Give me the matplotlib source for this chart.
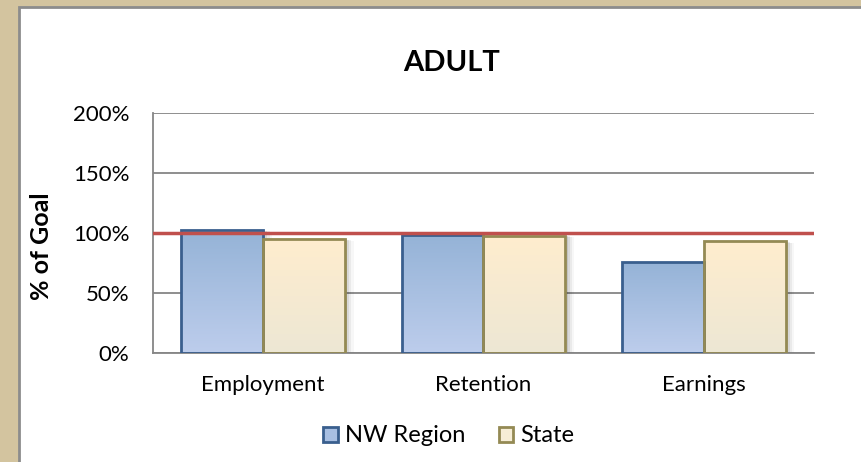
import numpy as np
import matplotlib
matplotlib.use("Agg")
import matplotlib.pyplot as plt
from matplotlib.patches import Rectangle
from matplotlib.colors import LinearSegmentedColormap

categories = ["Employment", "Retention", "Earnings"]
nw_region = [102.5, 98.3, 75.6]
state = [95.3, 97.9, 93.1]
goal = 100
yticks = [0, 50, 100, 150, 200]
series_names = ["NW Region", "State"]

W, H = 862, 462
FONT = "Lato"


def gradient_bars(ax, bars, top, bottom, edge):
    cmap = LinearSegmentedColormap.from_list("g", [bottom, top])
    grad = np.linspace(0, 1, 256).reshape(-1, 1)
    for b in bars:
        x0, w, h = b.get_x(), b.get_width(), b.get_height()
        # soft shadow to the right / below
        for k, a in enumerate([0.10, 0.07, 0.05, 0.03]):
            off = 0.006 * (k + 1)
            ax.add_patch(Rectangle((x0 + off * 1.6, -0.4 * (k + 1)), w, h,
                                   facecolor="black", alpha=a, edgecolor="none", zorder=1))
        ax.imshow(grad, cmap=cmap, extent=(x0, x0 + w, 0, h), origin="lower",
                  aspect="auto", zorder=2, interpolation="bilinear")
        ax.add_patch(Rectangle((x0, 0), w, h, facecolor="none", edgecolor=edge,
                               linewidth=2.0, zorder=3))


def main():
    plt.rcParams["font.family"] = [FONT, "DejaVu Sans"]
    fig = plt.figure(figsize=(W / 100, H / 100), dpi=100)
    fig.patch.set_facecolor("#D3C49F")
    # white chart area with grey border on the left and top
    fig.patches.append(Rectangle((19 / W, -1), 2, 2 - 7 / H, transform=fig.transFigure,
                                 facecolor="white", edgecolor="#8C8C8C", linewidth=2, zorder=-5))

    ax = fig.add_axes([153 / W, 1 - 353 / H, (814 - 153) / W, 240 / H])
    ax.set_facecolor("none")
    x = np.arange(len(categories))
    width = 0.372
    b1 = ax.bar(x - width / 2, nw_region, width, color="none", edgecolor="none")
    b2 = ax.bar(x + width / 2, state, width, color="none", edgecolor="none")
    gradient_bars(ax, b1, "#95B3D7", "#BDCDEC", "#3A5F8E")
    gradient_bars(ax, b2, "#FFEDCE", "#EDE7D4", "#948A54")

    ax.axhline(goal, color="#C0504D", linewidth=2.5, zorder=5)

    ax.set_xlim(-0.5, len(categories) - 0.5)
    ax.set_ylim(0, 200)
    ax.set_yticks(yticks)
    ax.set_yticklabels(["{}%".format(v) for v in yticks])
    ax.set_xticks(x)
    ax.set_xticklabels(categories)
    ax.grid(axis="y", color="#868686", linewidth=1.3, zorder=0)
    ax.set_axisbelow(True)
    for s in ["top", "right"]:
        ax.spines[s].set_visible(False)
    for s in ["left", "bottom"]:
        ax.spines[s].set_color("#868686")
        ax.spines[s].set_linewidth(1.3)
    ax.tick_params(axis="both", length=0, labelsize=16)
    ax.tick_params(axis="y", pad=17)
    ax.tick_params(axis="x", pad=16)

    fig.text(452 / W, 1 - 63 / H, "ADULT", ha="center", va="center",
             fontsize=21, fontweight="bold")
    fig.text(42 / W, 1 - 246 / H, "% of Goal", rotation=90, ha="center", va="center",
             fontsize=18, fontweight="bold")

    h1 = Rectangle((0, 0), 1, 1, facecolor="#A8BFE2", edgecolor="#3A5F8E", linewidth=2)
    h2 = Rectangle((0, 0), 1, 1, facecolor="#F6EDD6", edgecolor="#948A54", linewidth=2)
    fig.legend([h1, h2], series_names, loc="center", bbox_to_anchor=(449 / W, 1 - 436 / H),
               ncol=2, frameon=False, fontsize=17, handlelength=0.6, handleheight=0.6,
               handletextpad=0.3, columnspacing=1.45)

    fig.savefig("out.png", dpi=100, facecolor=fig.get_facecolor())
    plt.close()


if __name__ == "__main__":
    main()
